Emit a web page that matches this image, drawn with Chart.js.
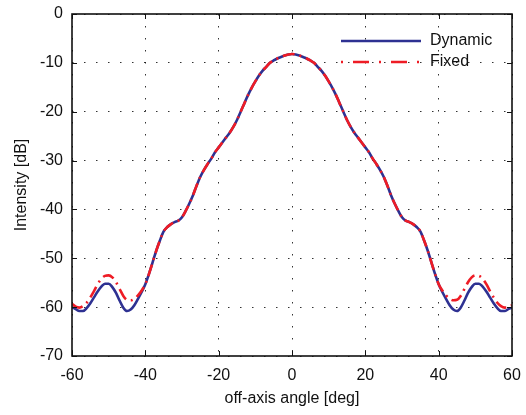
<!DOCTYPE html>
<html><head><meta charset="utf-8">
<script src="https://cdn.jsdelivr.net/npm/chart.js@4/dist/chart.umd.min.js"></script>
<style>html,body{margin:0;padding:0;background:#fff}</style>
</head><body>
<canvas id="c" width="526" height="415"></canvas>
<script>
// off-axis angle [deg]
const angles = [];
for (let a = -60; a <= 60; a++) angles.push(a);

// Intensity [dB] at each degree (-60 .. 60)
const dynamicDb = [
  -60.0,-60.4,-60.8,-60.8,-60.2,-59.2,-58.0,-56.8,-55.8,-55.2,
  -55.2,-55.9,-57.1,-58.7,-60.1,-60.8,-60.5,-59.6,-58.3,-56.9,
  -55.3,-53.2,-50.8,-48.4,-46.3,-44.5,-43.6,-43.0,-42.6,-42.3,
  -41.6,-40.3,-38.8,-37.1,-35.1,-33.3,-31.9,-30.7,-29.6,-28.3,
  -27.3,-26.3,-25.3,-24.3,-23.1,-21.7,-20.0,-18.3,-16.6,-15.1,
  -13.8,-12.6,-11.6,-10.8,-10.0,-9.5,-9.1,-8.8,-8.5,-8.3,
  -8.2,
  -8.3,-8.5,-8.8,-9.1,-9.5,-10.0,-10.8,-11.6,-12.6,-13.8,
  -15.1,-16.6,-18.3,-20.0,-21.7,-23.1,-24.3,-25.3,-26.3,-27.3,
  -28.3,-29.6,-30.7,-31.9,-33.3,-35.1,-37.1,-38.8,-40.3,-41.6,
  -42.3,-42.6,-43.0,-43.6,-44.5,-46.3,-48.4,-50.8,-53.2,-55.3,
  -56.9,-58.3,-59.6,-60.5,-60.8,-60.1,-58.7,-57.1,-55.9,-55.2,
  -55.2,-55.8,-56.8,-58.0,-59.2,-60.2,-60.8,-60.8,-60.4,-60.1
];
const fixedDb = [
  -59.3,-59.9,-60.1,-59.8,-59.1,-58.0,-56.7,-55.3,-54.2,-53.6,
  -53.5,-53.9,-54.9,-56.3,-57.7,-58.5,-58.6,-58.3,-57.6,-56.6,
  -55.3,-53.2,-50.8,-48.4,-46.3,-44.5,-43.6,-43.0,-42.6,-42.3,
  -41.6,-40.3,-38.8,-37.1,-35.1,-33.3,-31.9,-30.7,-29.6,-28.3,
  -27.3,-26.3,-25.3,-24.3,-23.1,-21.7,-20.0,-18.3,-16.6,-15.1,
  -13.8,-12.6,-11.6,-10.8,-10.0,-9.5,-9.1,-8.8,-8.5,-8.3,
  -8.2,
  -8.3,-8.5,-8.8,-9.1,-9.5,-10.0,-10.8,-11.6,-12.6,-13.8,
  -15.1,-16.6,-18.3,-20.0,-21.7,-23.1,-24.3,-25.3,-26.3,-27.3,
  -28.3,-29.6,-30.7,-31.9,-33.3,-35.1,-37.1,-38.8,-40.3,-41.6,
  -42.3,-42.6,-43.0,-43.6,-44.5,-46.3,-48.4,-50.8,-53.2,-55.3,
  -56.6,-57.6,-58.3,-58.6,-58.5,-57.7,-56.3,-54.9,-53.9,-53.5,
  -53.6,-54.2,-55.3,-56.7,-58.0,-59.1,-59.8,-60.1,-60.0,-59.6
];
const seriesNames = ['Dynamic', 'Fixed'];
const xTickValues = [-60, -40, -20, 0, 20, 40, 60];
const yTickValues = [0, -10, -20, -30, -40, -50, -60, -70];

const FONT = '"Liberation Sans", Arial, Helvetica, sans-serif';
const BLUE = '#2e3192';
const RED = '#ee1c25';

const toXY = vals => angles.map((a, i) => ({ x: a, y: vals[i] }));

const framePlugin = {
  id: 'frame',
  afterDatasetsDraw(chart) {
    const { ctx, chartArea: a, scales: { x, y } } = chart;
    ctx.save();
    ctx.strokeStyle = '#111';
    ctx.lineWidth = 1;
    ctx.setLineDash([]);
    ctx.beginPath();
    xTickValues.forEach(v => {
      const px = Math.round(x.getPixelForValue(v)) + 0.5;
      ctx.moveTo(px, a.bottom); ctx.lineTo(px, a.bottom - 5);
      ctx.moveTo(px, a.top); ctx.lineTo(px, a.top + 5);
    });
    yTickValues.forEach(v => {
      const py = Math.round(y.getPixelForValue(v)) + 0.5;
      ctx.moveTo(a.left, py); ctx.lineTo(a.left + 5, py);
      ctx.moveTo(a.right, py); ctx.lineTo(a.right - 5, py);
    });
    ctx.stroke();
    ctx.lineWidth = 1.6;
    ctx.strokeRect(a.left, a.top, a.right - a.left, a.bottom - a.top);

    // legend inside the axes (top right)
    const lx0 = 341, lx1 = 421, tx = 430;
    const rows = [
      { name: seriesNames[0], y: 41, color: BLUE, dash: [] },
      { name: seriesNames[1], y: 62, color: RED, dash: [2, 10, 16, 10] }
    ];
    rows.forEach(r => {
      ctx.beginPath();
      ctx.strokeStyle = r.color;
      ctx.lineWidth = 2.6;
      ctx.setLineDash(r.dash);
      ctx.moveTo(lx0, r.y); ctx.lineTo(lx1, r.y);
      ctx.stroke();
      ctx.setLineDash([]);
      ctx.fillStyle = '#111';
      ctx.font = '16px ' + FONT;
      ctx.textBaseline = 'middle';
      ctx.textAlign = 'left';
      ctx.fillText(r.name, tx, r.y);
    });
    ctx.restore();
  }
};

new Chart(document.getElementById('c'), {
  type: 'line',
  data: {
    datasets: [
      {
        label: seriesNames[0], data: toXY(dynamicDb), borderColor: BLUE,
        borderWidth: 2.6, pointRadius: 0, cubicInterpolationMode: 'monotone',
        fill: false, order: 2
      },
      {
        label: seriesNames[1], data: toXY(fixedDb), borderColor: RED,
        borderWidth: 2.6, borderDash: [12, 5, 2, 5], pointRadius: 0,
        cubicInterpolationMode: 'monotone', fill: false, order: 1
      }
    ]
  },
  options: {
    responsive: false,
    animation: false,
    events: [],
    layout: { padding: { top: 14, right: 14, left: 0, bottom: 0 } },
    plugins: { legend: { display: false }, tooltip: { enabled: false } },
    scales: {
      x: {
        type: 'linear', min: -60, max: 60,
        afterFit: s => { s.height = 59; s.paddingLeft = 0; s.paddingRight = 0; },
        afterBuildTicks: s => { s.ticks = xTickValues.map(v => ({ value: v })); },
        ticks: { color: '#111', font: { family: FONT, size: 16 }, padding: 10, maxRotation: 0 },
        grid: { color: 'rgba(0,0,0,0.8)', lineWidth: 1, drawTicks: false },
        border: { display: false, dash: [1.5, 10.5] },
        title: { display: true, text: 'off-axis angle [deg]', color: '#111',
                 font: { family: FONT, size: 16 }, padding: { top: 4, bottom: 7 } }
      },
      y: {
        type: 'linear', min: -70, max: 0,
        afterFit: s => { s.width = 72; s.paddingTop = 0; s.paddingBottom = 0; },
        afterBuildTicks: s => { s.ticks = yTickValues.map(v => ({ value: v })); },
        ticks: { color: '#111', font: { family: FONT, size: 16 }, padding: 9 },
        grid: { color: 'rgba(0,0,0,0.8)', lineWidth: 1, drawTicks: false },
        border: { display: false, dash: [1.5, 10.5] },
        title: { display: true, text: 'Intensity [dB]', color: '#111',
                 font: { family: FONT, size: 16 }, padding: { top: 12, bottom: 4 } }
      }
    }
  },
  plugins: [framePlugin]
});
</script>
</body></html>
